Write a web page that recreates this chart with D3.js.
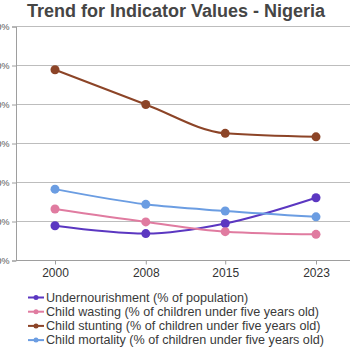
<!DOCTYPE html>
<html><head><meta charset="utf-8">
<script src="https://cdn.jsdelivr.net/npm/d3@7/dist/d3.min.js"></script>
<style>body{margin:0;background:#fff;}svg{display:block;font-family:"Liberation Sans",Arial,sans-serif;}</style>
</head><body>
<svg id="c" width="350" height="350"></svg>
<script>
const years = [2000, 2008, 2015, 2023];
const seriesNames = [
  "Undernourishment (% of population)",
  "Child wasting (% of children under five years old)",
  "Child stunting (% of children under five years old)",
  "Child mortality (% of children under five years old)"
];
const undernourishment = [8.9, 6.9, 9.5, 16.1];
const childWasting = [13.2, 9.9, 7.4, 6.7];
const childStunting = [48.9, 40.0, 32.6, 31.7];
const childMortality = [18.3, 14.4, 12.7, 11.2];
const colors = ["#5b37c1", "#e07ba0", "#8c4427", "#6b9de2"];
const yTicks = [0, 10, 20, 30, 40, 50, 60];

const svg = d3.select("#c");
const x = d3.scaleLinear().domain([2000, 2023]).range([55, 316]);
const y = d3.scaleLinear().domain([0, 60]).range([260.5, 26.5]);
const left = 16, right = 350;

svg.append("text").attr("x", 176).attr("y", 17).attr("text-anchor", "middle")
  .attr("font-size", 18).attr("font-weight", "bold").attr("fill", "#454545")
  .text("Trend for Indicator Values - Nigeria");

// grid
svg.append("g").selectAll("line").data(yTicks.slice(1)).join("line")
  .attr("x1", left).attr("x2", right).attr("y1", d => y(d)).attr("y2", d => y(d))
  .attr("stroke", "#bdbdbd").attr("stroke-width", 1.2);

// y axis
const ya = svg.append("g").attr("transform", `translate(${left},0)`)
  .call(d3.axisLeft(y).tickValues(yTicks).tickFormat(d => d + "%").tickSize(4).tickPadding(2.5));
ya.select(".domain").attr("stroke", "#9e9e9e");
ya.selectAll(".tick line").attr("stroke", "#9e9e9e");
ya.selectAll("text").attr("font-size", 9).attr("fill", "#555").attr("font-family", "Liberation Sans, Arial, sans-serif");

// x axis
const xa = svg.append("g").attr("transform", `translate(0,${y(0)})`)
  .call(d3.axisBottom(x).tickValues(years).tickFormat(d3.format("d")).tickSize(4).tickPadding(4));
xa.select(".domain").attr("d", `M${left},0H${right}`).attr("stroke", "#9e9e9e");
xa.selectAll(".tick line").attr("stroke", "#9e9e9e");
xa.selectAll("text").attr("font-size", 12).attr("fill", "#333").attr("font-family", "Liberation Sans, Arial, sans-serif");

const allSeries = [undernourishment, childWasting, childStunting, childMortality];
const line = d3.line().x((d, i) => x(years[i])).y(d => y(d)).curve(d3.curveMonotoneX);
allSeries.forEach((vals, si) => {
  svg.append("path").datum(vals).attr("d", line).attr("fill", "none")
    .attr("stroke", colors[si]).attr("stroke-width", 2);
});
allSeries.forEach((vals, si) => {
  svg.append("g").selectAll("circle").data(vals).join("circle")
    .attr("cx", (d, i) => x(years[i])).attr("cy", d => y(d)).attr("r", 4.5)
    .attr("fill", colors[si]);
});

// legend
const lg = svg.append("g");
seriesNames.forEach((name, i) => {
  const yy = 297.5 + i * 14.2;
  lg.append("line").attr("x1", 28).attr("x2", 44).attr("y1", yy).attr("y2", yy)
    .attr("stroke", colors[i]).attr("stroke-width", 2);
  lg.append("circle").attr("cx", 36).attr("cy", yy).attr("r", 2.5).attr("fill", colors[i]);
  lg.append("text").attr("x", 46).attr("y", yy + 4.3).attr("font-size", 12.6)
    .attr("fill", "#3a3a3a").text(name);
});
</script>
</body></html>
